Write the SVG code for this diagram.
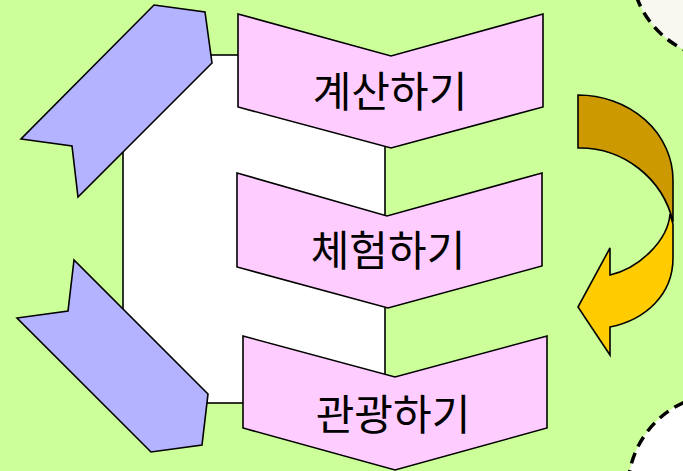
<svg xmlns="http://www.w3.org/2000/svg" width="683" height="471" viewBox="0 0 683 471">
<style>
.s{stroke:#000;stroke-width:1.6;stroke-linejoin:miter}
.pink{fill:#FFCCFF}
.blue{fill:#B3B3FF}
.dash{stroke:#000;stroke-width:3.5;stroke-dasharray:11 7;fill:none}
.t{font-family:"Noto Sans CJK KR","Noto Sans",sans-serif;font-size:42px;fill:#000;text-anchor:middle}
</style>
<rect x="0" y="0" width="683" height="471" fill="#CCFF99"/>
<g id="corner-top">
<circle cx="725" cy="-35" r="94" fill="#F8F8F0"/>
<circle cx="725" cy="-35" r="94" class="dash"/>
</g>
<g id="corner-bottom">
<circle cx="723" cy="489" r="95" fill="#FFFFFF"/>
<circle cx="723" cy="489" r="95" class="dash"/>
</g>
<g id="frame">
<rect x="123" y="55" width="262" height="348" fill="#FFFFFF" class="s"/>
</g>
<g id="blue-top">
<polygon class="s blue" points="154,5 205,12 212,63 78,197 72,146 21,139"/>
</g>
<g id="blue-bottom">
<polygon class="s blue" points="74,260 68,311 17,318 151,452 202,445 208,394"/>
</g>
<g id="step1">
<polygon class="s pink" points="238,14 391,56 543,14 543,107 391,148 238,107"/>
<text class="t" x="390" y="107">계산하기</text>
</g>
<g id="step2">
<polygon class="s pink" points="237,173 387,216 542,173 542,266 388,308 237,267"/>
<text class="t" x="388" y="266">체험하기</text>
</g>
<g id="step3">
<polygon class="s pink" points="243,336 395,377 547,336 547,428 395,470 243,428"/>
<text class="t" x="393" y="430">관광하기</text>
</g>
<g id="connectors">
<path class="s" fill="#CC9900" d="M578,95 A95,85 0 0 1 673,180 L673,222 A96,96 0 0 0 578,148 Z"/>
<path class="s" fill="#FFCC00" d="M670,214 L673,224 L673,258 C673,295 645,320 610,327 L610,355 L578,307 L610,248 L610,275 C640,268 668,240 670,214 Z"/>
</g>
</svg>
